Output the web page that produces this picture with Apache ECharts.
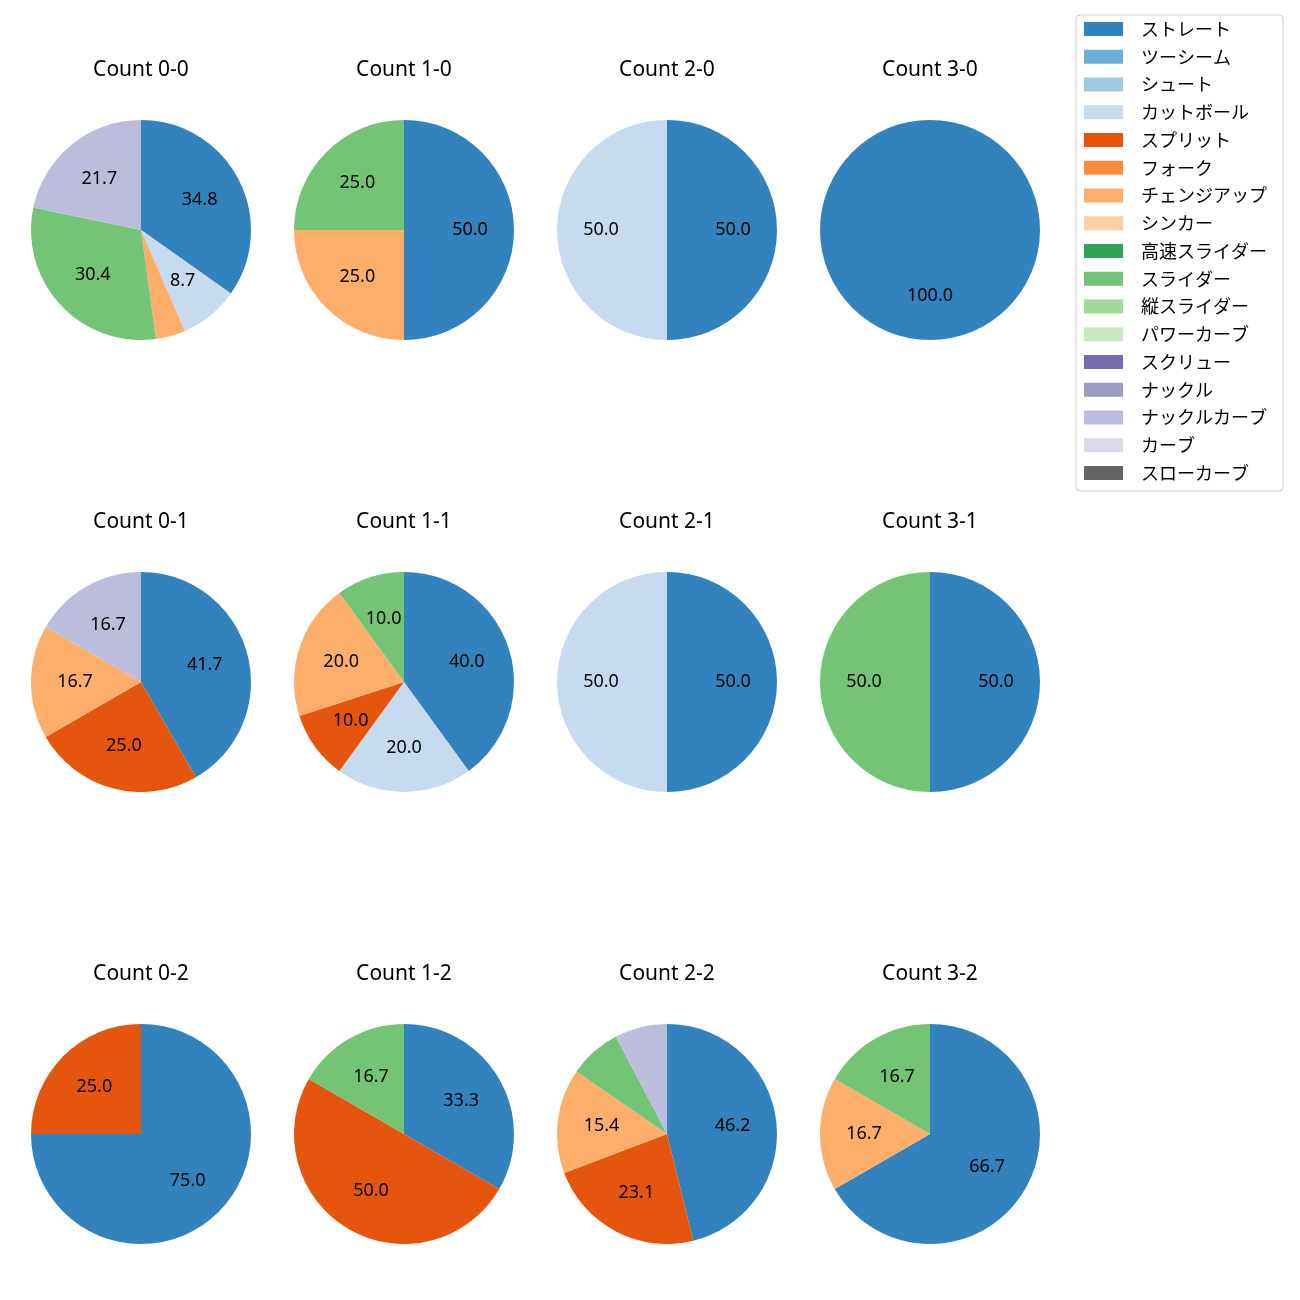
<!DOCTYPE html>
<html><head><meta charset="utf-8">
<script src="https://cdn.jsdelivr.net/npm/echarts@6/dist/echarts.min.js"></script>
<style>html,body{margin:0;padding:0;background:#fff}#c{width:1300px;height:1300px}</style>
</head><body><div id="c"></div>
<script>
const pitchTypes = ['ストレート','ツーシーム','シュート','カットボール','スプリット','フォーク','チェンジアップ','シンカー','高速スライダー','スライダー','縦スライダー','パワーカーブ','スクリュー','ナックル','ナックルカーブ','カーブ','スローカーブ'];
const colors = ['#3182bd','#6baed6','#9ecae1','#c6dbef','#e6550d','#fd8d3c','#fdae6b','#fdd0a2','#31a354','#74c476','#a1d99b','#c7e9c0','#756bb1','#9e9ac8','#bcbddc','#dadaeb','#636363'];
const countTitles = ['Count 0-0','Count 1-0','Count 2-0','Count 3-0','Count 0-1','Count 1-1','Count 2-1','Count 3-1','Count 0-2','Count 1-2','Count 2-2','Count 3-2'];
// pitch counts per count situation, in pitchTypes order
const c00 = [8,0,0,2,0,0,1,0,0,7,0,0,0,0,5,0,0];
const c10 = [2,0,0,0,0,0,1,0,0,1,0,0,0,0,0,0,0];
const c20 = [1,0,0,1,0,0,0,0,0,0,0,0,0,0,0,0,0];
const c30 = [1,0,0,0,0,0,0,0,0,0,0,0,0,0,0,0,0];
const c01 = [5,0,0,0,3,0,2,0,0,0,0,0,0,0,2,0,0];
const c11 = [4,0,0,2,1,0,2,0,0,1,0,0,0,0,0,0,0];
const c21 = [1,0,0,1,0,0,0,0,0,0,0,0,0,0,0,0,0];
const c31 = [1,0,0,0,0,0,0,0,0,1,0,0,0,0,0,0,0];
const c02 = [3,0,0,0,1,0,0,0,0,0,0,0,0,0,0,0,0];
const c12 = [2,0,0,0,3,0,0,0,0,1,0,0,0,0,0,0,0];
const c22 = [6,0,0,0,3,0,2,0,0,1,0,0,0,0,1,0,0];
const c32 = [4,0,0,0,0,0,1,0,0,1,0,0,0,0,0,0,0];
const countData = [c00,c10,c20,c30,c01,c11,c21,c31,c02,c12,c22,c32];

const FONT = '"Noto Sans CJK JP", "Noto Sans", sans-serif';
const LATIN = '"Noto Sans", "Noto Sans CJK JP", sans-serif';
const colX = [141, 404, 667, 930];
const rowY = [230, 682, 1134];
const R = 110;

const series = [];
const titles = [];
countData.forEach((arr, i) => {
  const cx = colX[i % 4], cy = rowY[Math.floor(i / 4)];
  const total = arr.reduce((a, b) => a + b, 0);
  const data = arr.map((v, k) => ({ name: pitchTypes[k], value: v, itemStyle: { color: colors[k] } }));
  titles.push({ text: countTitles[i], left: cx, top: cy - 170, textAlign: 'center', padding: 0,
    textStyle: { fontFamily: LATIN, fontSize: 21, fontWeight: 'normal', color: '#000' } });
  series.push({
    type: 'pie', center: [cx, cy], radius: [0, R], startAngle: 90, clockwise: true,
    animation: false, silent: true, minAngle: 0, avoidLabelOverlap: false,
    itemStyle: { borderWidth: 0 }, label: { show: false }, labelLine: { show: false },
    emphasis: { disabled: true }, data: data
  });
  series.push({
    type: 'pie', center: [cx, cy], radius: [16, R], startAngle: 90, clockwise: true,
    animation: false, silent: true, legendHoverLink: false,
    itemStyle: { color: 'rgba(0,0,0,0)', borderWidth: 0 },
    label: { show: true, position: 'inside', fontFamily: LATIN, fontSize: 18, color: '#000',
      formatter: p => { const pct = p.value / total * 100; return pct >= 8 ? pct.toFixed(1) : ''; } },
    labelLine: { show: false }, emphasis: { disabled: true },
    data: arr.map((v, k) => ({ name: pitchTypes[k], value: v }))
  });
});

const chart = echarts.init(document.getElementById('c'), null, { renderer: 'canvas' });
chart.setOption({
  animation: false,
  title: titles,
  legend: {
    orient: 'vertical', left: 1076, top: 15, data: pitchTypes,
    icon: 'rect', itemWidth: 39, itemHeight: 14, itemGap: 9.75,
    padding: [5, 16, 9, 8], backgroundColor: '#fff', borderColor: '#d0d0d0', borderWidth: 1, borderRadius: 4,
    textStyle: { fontFamily: FONT, fontSize: 18, color: '#000', padding: [0, 0, 0, 13] },
    selectedMode: false
  },
  series: series
});
</script></body></html>
